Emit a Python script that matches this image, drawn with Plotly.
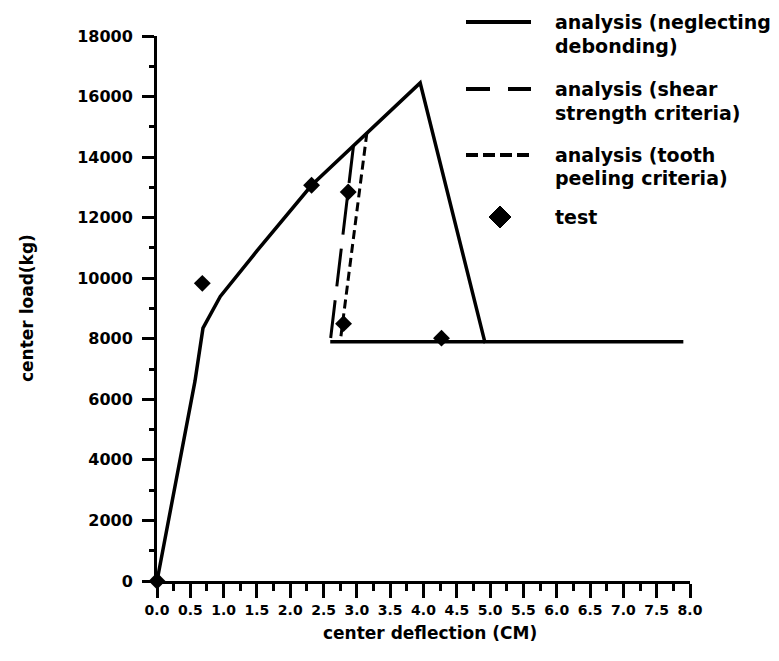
import plotly.graph_objects as go

# ---------------- data ----------------
neglect_x = [0.0, 0.57, 0.69, 0.95, 1.50, 2.32, 3.95, 4.92, 7.90]
neglect_y = [0, 6600, 8350, 9400, 10900, 13070, 16450, 7900, 7900]

plateau_x = [2.60, 4.92]
plateau_y = [7900, 7900]

shear_x = [2.95, 2.62, 2.60]
shear_y = [14390, 8300, 7900]

tooth_x = [3.15, 2.75]
tooth_y = [14800, 7900]

test_x = [0.0, 0.68, 2.32, 2.87, 2.80, 4.27]
test_y = [0, 9830, 13070, 12850, 8500, 8020]

legend_labels = [
    ["analysis (neglecting", "debonding)"],
    ["analysis (shear", "strength criteria)"],
    ["analysis (tooth", "peeling criteria)"],
    ["test"],
]

x_ticks = [i * 0.5 for i in range(17)]
y_ticks = [i * 2000 for i in range(10)]

# ---------------- layout geometry ----------------
OFF = 8  # page body margin
W, H = 779 - OFF, 661 - OFF
L, T = 157 - OFF, 36 - OFF
R = W - (690 - OFF)
B = H - (581 - OFF)
PW, PH = W - L - R, H - T - B

def px(xs):
    return (xs - OFF - L) / PW

def py(ys):
    return (H - B - (ys - OFF)) / PH

FONT = "DejaVu Sans"
black = "#000000"

fig = go.Figure()

fig.add_trace(go.Scatter(x=neglect_x, y=neglect_y, mode="lines",
                         line=dict(color=black, width=3.5), showlegend=False))
fig.add_trace(go.Scatter(x=plateau_x, y=plateau_y, mode="lines",
                         line=dict(color=black, width=3.5), showlegend=False))
fig.add_trace(go.Scatter(x=shear_x, y=shear_y, mode="lines",
                         line=dict(color=black, width=3, dash="38px,14px"),
                         showlegend=False))
fig.add_trace(go.Scatter(x=tooth_x, y=tooth_y, mode="lines",
                         line=dict(color=black, width=3, dash="9px,5px"),
                         showlegend=False))
fig.add_trace(go.Scatter(x=test_x, y=test_y, mode="markers",
                         marker=dict(symbol="diamond", size=13, color=black),
                         cliponaxis=False, showlegend=False))

# ---------------- manual legend ----------------
shapes = []
sample_rows = [22, 89, 155]
dashes = ["solid", "24px,18px", "12px,5px"]
for yy, d in zip(sample_rows, dashes):
    shapes.append(dict(type="line", xref="paper", yref="paper",
                       x0=px(466), x1=px(531), y0=py(yy), y1=py(yy),
                       line=dict(color=black, width=4, dash=d)))
cx, cy, r = 500, 217, 11
path = "M {},{} L {},{} L {},{} L {},{} Z".format(
    px(cx - r), py(cy), px(cx), py(cy - r), px(cx + r), py(cy), px(cx), py(cy + r))
shapes.append(dict(type="path", xref="paper", yref="paper", path=path,
                   fillcolor=black, line=dict(color=black, width=1)))

annotations = []
text_rows = [[22, 46], [89, 113], [155, 178], [217]]
for lines, rows in zip(legend_labels, text_rows):
    for t, yy in zip(lines, rows):
        annotations.append(dict(text=t, xref="paper", yref="paper",
                                x=px(553), y=py(yy), xanchor="left", yanchor="middle",
                                showarrow=False,
                                font=dict(family=FONT, size=19, color=black, weight="bold")))

annotations.append(dict(text="center deflection (CM)", xref="paper", yref="paper",
                        x=px(430), y=py(633), xanchor="center", yanchor="middle",
                        showarrow=False,
                        font=dict(family=FONT, size=17, color=black, weight="bold")))
annotations.append(dict(text="center load(kg)", xref="paper", yref="paper",
                        x=px(27), y=py(308), xanchor="center", yanchor="middle",
                        showarrow=False, textangle=-90,
                        font=dict(family=FONT, size=17, color=black, weight="bold")))

fig.update_layout(
    width=W, height=H,
    margin=dict(l=L, r=R, t=T, b=B),
    paper_bgcolor="white", plot_bgcolor="white",
    shapes=shapes, annotations=annotations,
    showlegend=False,
    xaxis=dict(range=[0, 8], tickmode="array", tickvals=x_ticks,
               ticktext=["{:.1f}".format(v) for v in x_ticks],
               showgrid=False, zeroline=False, showline=True,
               linecolor=black, linewidth=3,
               ticks="outside", ticklen=14, tickwidth=3, tickcolor=black,
               minor=dict(dtick=0.25, tick0=0, ticks="outside", ticklen=7,
                          tickwidth=2.5, tickcolor=black, showgrid=False),
               tickfont=dict(family=FONT, size=14, color=black, weight="bold"),
               ticklabelstandoff=0),
    yaxis=dict(range=[0, 18000], tickmode="array", tickvals=y_ticks,
               ticktext=[str(v) for v in y_ticks],
               showgrid=False, zeroline=False, showline=True,
               linecolor=black, linewidth=3,
               ticks="outside", ticklen=12, tickwidth=3, tickcolor=black,
               minor=dict(dtick=1000, tick0=0, ticks="outside", ticklen=5,
                          tickwidth=2.5, tickcolor=black, showgrid=False),
               tickfont=dict(family=FONT, size=16, color=black, weight="bold"),
               ticklabelstandoff=6),
)

fig.write_html("out.html")
